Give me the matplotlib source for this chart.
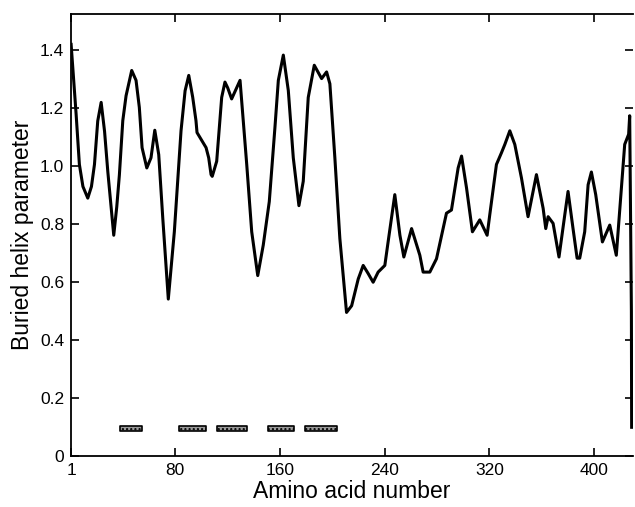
import matplotlib
matplotlib.use("Agg")
import matplotlib.pyplot as plt

# residue positions and buried helix parameter
residue = [1, 4.8, 7.3, 10, 13.7, 16.5, 18.8, 21.3, 23.9, 26.5, 29, 33.5, 35.8, 37.8,
           40.4, 42.9, 47.2, 50.5, 53, 55.1, 58.7, 61.9, 64.8, 67.8, 70.9, 75.1, 79.7,
           84.8, 87.9, 90.7, 93.7, 96.2, 97, 103.9, 105.9, 107.7, 108.6, 112, 115.8,
           118.3, 120.4, 123.4, 127.2, 129.8, 134.9, 138.7, 143.3, 147.5, 152.1, 156.4,
           159, 162.8, 166.6, 170.4, 174.7, 178, 181.8, 186.4, 192, 195.8, 198.3, 202.1,
           205.9, 211, 214.9, 219.9, 223.7, 227.5, 231.3, 235.1, 240.2, 242.7, 247.8,
           251.7, 254.7, 260.6, 266.9, 269.4, 274.5, 279.6, 287.2, 291, 296.1, 298.7,
           302.5, 307, 312.6, 318.2, 320.2, 325.3, 329.1, 331.7, 335.5, 339.3, 344.4,
           349.4, 355.8, 360.9, 362.9, 364.7, 368.5, 373, 377.4, 379.9, 383.7, 386.8,
           388.8, 392.6, 395.2, 397.7, 401, 406.1, 411.7, 416.7, 423.1, 426.1, 426.9,
           428.2, 428.4]
buried = [1.42, 1.18, 1.006, 0.93, 0.89, 0.93, 1.006, 1.156, 1.22, 1.12, 0.98, 0.762,
          0.86, 0.97, 1.157, 1.243, 1.33, 1.296, 1.203, 1.064, 0.994, 1.029, 1.124, 1.04,
          0.82, 0.542, 0.774, 1.122, 1.26, 1.313, 1.238, 1.157, 1.116, 1.064, 1.029,
          0.971, 0.965, 1.017, 1.237, 1.29, 1.27, 1.232, 1.27, 1.296, 1.006, 0.774,
          0.623, 0.728, 0.878, 1.133, 1.296, 1.383, 1.261, 1.029, 0.864, 0.948, 1.237,
          1.348, 1.302, 1.325, 1.284, 1.029, 0.751, 0.496, 0.519, 0.611, 0.658, 0.63,
          0.6, 0.635, 0.658, 0.739, 0.902, 0.762, 0.687, 0.785, 0.693, 0.635, 0.635,
          0.681, 0.838, 0.849, 0.994, 1.035, 0.925, 0.774, 0.815, 0.762, 0.832, 1.006,
          1.046, 1.075, 1.122, 1.075, 0.959, 0.826, 0.971, 0.855, 0.785, 0.826, 0.803,
          0.687, 0.832, 0.913, 0.785, 0.683, 0.683, 0.774, 0.936, 0.98, 0.902, 0.739,
          0.797, 0.693, 1.075, 1.11, 1.174, 0.5, 0.1]

# predicted helices (start, end) drawn as bars
helix_start = [38, 83.5, 112, 151.3, 179.3]
helix_end = [55.4, 103.9, 135.3, 171.1, 203.4]
helix_level = 0.095

xticks = [1, 80, 160, 240, 320, 400]
yticks = [0, 0.2, 0.4, 0.6, 0.8, 1.0, 1.2, 1.4]
ytick_labels = ["0", "0.2", "0.4", "0.6", "0.8", "1.0", "1.2", "1.4"]

plt.rcParams["font.family"] = ["Liberation Sans", "DejaVu Sans"]

fig = plt.figure(figsize=(6.35, 5.07), dpi=100)
ax = fig.add_axes([0.112, 0.1, 0.885, 0.872])

ax.plot(residue, buried, color="black", linewidth=2.2, solid_joinstyle="round")

spans = [(s, e - s) for s, e in zip(helix_start, helix_end)]
ax.broken_barh(spans, (helix_level - 0.009, 0.018), facecolors="#9a9a9a",
               edgecolors="black", linewidth=1.2, hatch="....")

ax.set_xlim(1, 429.5)
ax.set_ylim(0, 1.524)
ax.set_xticks(xticks)
ax.set_yticks(yticks)
ax.set_yticklabels(ytick_labels)
ax.tick_params(direction="in", length=6, width=1.2, top=True, right=True,
               labelsize=12.5, pad=5)
ax.spines["right"].set_visible(False)
for side in ["left", "bottom", "top"]:
    ax.spines[side].set_linewidth(1.3)

ax.set_xlabel("Amino acid number", fontsize=16.5, labelpad=1)
ax.set_ylabel("Buried helix parameter", fontsize=16.5, labelpad=4)

fig.savefig("out.png", dpi=100)
